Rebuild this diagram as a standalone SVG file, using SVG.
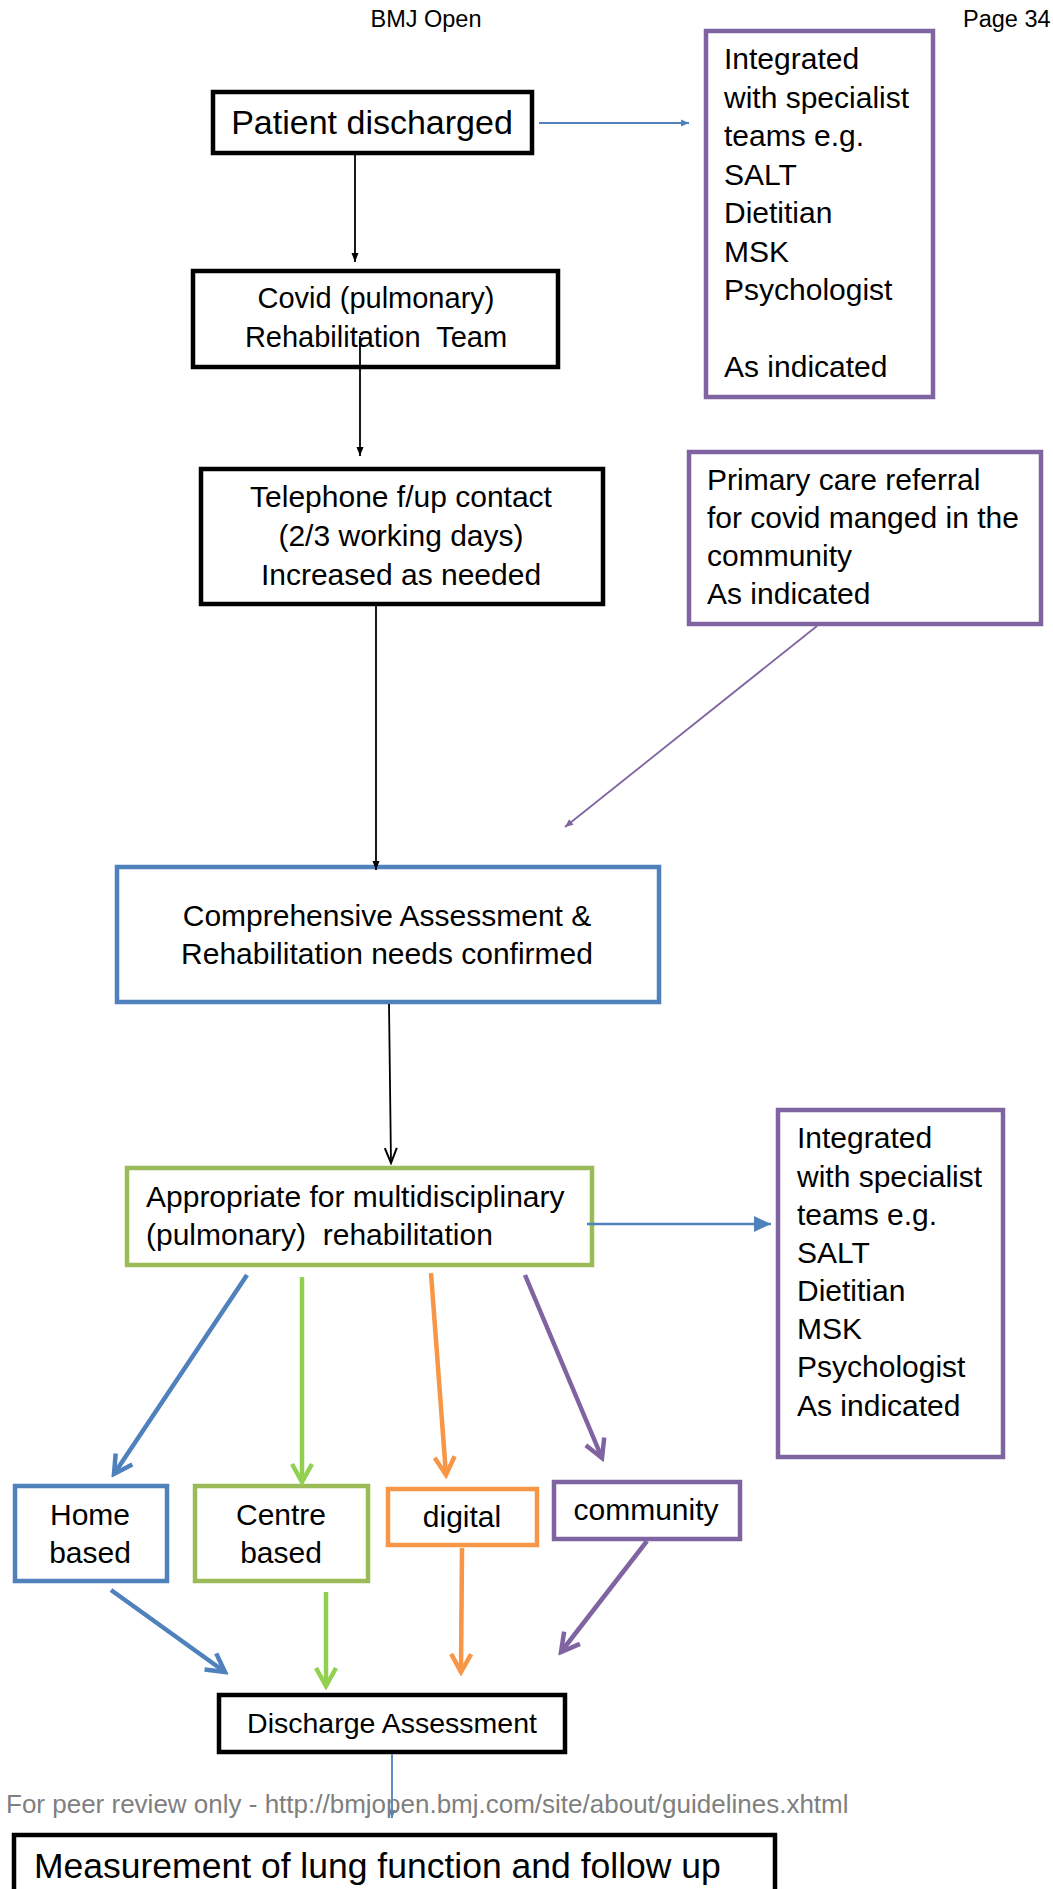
<svg xmlns="http://www.w3.org/2000/svg" width="1053" height="1889" viewBox="0 0 1053 1889">
<style>
text{font-family:"Liberation Sans",Arial,sans-serif;fill:#000;font-size:30px}
.box{fill:#fff;stroke-width:4.5}
.k{stroke:#000}.b{stroke:#4f81bd}.p{stroke:#8064a2}.g{stroke:#9bbb59}.o{stroke:#f79646}
.c{text-anchor:middle}
.thin{fill:none;stroke-width:1.8}
.thick{fill:none;stroke-width:4.5}
</style>
<defs>
<marker id="mk" markerUnits="userSpaceOnUse" viewBox="-10 -6 12 12" refX="0" refY="0" markerWidth="12" markerHeight="12" orient="auto"><path d="M-9,-3.5 L0,0 L-9,3.5 Z" fill="#000"/></marker>
<marker id="mkv" markerUnits="userSpaceOnUse" viewBox="-18 -9 20 18" refX="0" refY="0" markerWidth="20" markerHeight="18" orient="auto"><path d="M-15,-6 L0,0 L-15,6" fill="none" stroke="#000" stroke-width="2"/></marker>
<marker id="mbs" markerUnits="userSpaceOnUse" viewBox="-10 -6 12 12" refX="0" refY="0" markerWidth="12" markerHeight="12" orient="auto"><path d="M-8,-3.5 L0,0 L-8,3.5 Z" fill="#4f81bd"/></marker>
<marker id="mps" markerUnits="userSpaceOnUse" viewBox="-10 -6 12 12" refX="0" refY="0" markerWidth="12" markerHeight="12" orient="auto"><path d="M-8,-3.5 L0,0 L-8,3.5 Z" fill="#8064a2"/></marker>
<marker id="mbf" markerUnits="userSpaceOnUse" viewBox="-20 -10 22 20" refX="0" refY="0" markerWidth="22" markerHeight="20" orient="auto"><path d="M-17,-8 L0,0 L-17,8 Z" fill="#4f81bd"/></marker>
<marker id="vb" markerUnits="userSpaceOnUse" viewBox="-22 -14 26 28" refX="0" refY="0" markerWidth="26" markerHeight="28" orient="auto"><path d="M-18,-10 L0,0 L-18,10" fill="none" stroke="#4f81bd" stroke-width="4.5"/></marker>
<marker id="vg" markerUnits="userSpaceOnUse" viewBox="-22 -14 26 28" refX="0" refY="0" markerWidth="26" markerHeight="28" orient="auto"><path d="M-18,-10 L0,0 L-18,10" fill="none" stroke="#92d050" stroke-width="4.5"/></marker>
<marker id="vo" markerUnits="userSpaceOnUse" viewBox="-22 -14 26 28" refX="0" refY="0" markerWidth="26" markerHeight="28" orient="auto"><path d="M-18,-10 L0,0 L-18,10" fill="none" stroke="#f79646" stroke-width="4.5"/></marker>
<marker id="vp" markerUnits="userSpaceOnUse" viewBox="-22 -14 26 28" refX="0" refY="0" markerWidth="26" markerHeight="28" orient="auto"><path d="M-18,-10 L0,0 L-18,10" fill="none" stroke="#8064a2" stroke-width="4.5"/></marker>
</defs>
<rect width="1053" height="1889" fill="#fff"/>
<g id="header">
<text class="c" x="426" y="27" style="font-size:23.5px">BMJ Open</text>
<text x="963" y="27" style="font-size:23.5px">Page 34</text>
</g>
<g id="patient-discharged">
<rect class="box k" x="213" y="92" width="319" height="61"/>
<text class="c" x="372" y="134" style="font-size:34px">Patient discharged</text>
</g>
<g id="rehab-team">
<rect class="box k" x="193" y="271" width="365" height="96"/>
<text class="c" x="376" y="308" style="font-size:29px">Covid (pulmonary)</text>
<text class="c" x="376" y="347" style="font-size:29px;white-space:pre">Rehabilitation  Team</text>
</g>
<g id="telephone">
<rect class="box k" x="201" y="469" width="402" height="135"/>
<text class="c" x="401" y="507">Telephone f/up contact</text>
<text class="c" x="401" y="546">(2/3 working days)</text>
<text class="c" x="401" y="585">Increased as needed</text>
</g>
<g id="comprehensive">
<rect class="box b" x="117" y="867" width="542" height="135"/>
<text class="c" x="387" y="926">Comprehensive Assessment &amp;</text>
<text class="c" x="387" y="964">Rehabilitation needs confirmed</text>
</g>
<g id="specialist-top">
<rect class="box p" x="706" y="31" width="227" height="366"/>
<text x="724" y="69">Integrated</text>
<text x="724" y="107.5">with specialist</text>
<text x="724" y="146">teams e.g.</text>
<text x="724" y="184.5">SALT</text>
<text x="724" y="223">Dietitian</text>
<text x="724" y="261.5">MSK</text>
<text x="724" y="300">Psychologist</text>
<text x="724" y="377">As indicated</text>
</g>
<g id="primary-care">
<rect class="box p" x="689" y="452" width="352" height="172"/>
<text x="707" y="490">Primary care referral</text>
<text x="707" y="528">for covid manged in the</text>
<text x="707" y="566">community</text>
<text x="707" y="604">As indicated</text>
</g>
<g id="appropriate">
<rect class="box g" x="127" y="1168" width="465" height="97"/>
<text x="146" y="1207">Appropriate for multidisciplinary</text>
<text x="146" y="1245" style="white-space:pre">(pulmonary)  rehabilitation</text>
</g>
<g id="specialist-bottom">
<rect class="box p" x="778" y="1110" width="225" height="347"/>
<text x="797" y="1148">Integrated</text>
<text x="797" y="1187">with specialist</text>
<text x="797" y="1225">teams e.g.</text>
<text x="797" y="1263">SALT</text>
<text x="797" y="1301">Dietitian</text>
<text x="797" y="1339">MSK</text>
<text x="797" y="1377">Psychologist</text>
<text x="797" y="1416">As indicated</text>
</g>
<g id="home-based">
<rect class="box b" x="15" y="1486" width="152" height="95"/>
<text class="c" x="90" y="1525">Home</text>
<text class="c" x="90" y="1563">based</text>
</g>
<g id="centre-based">
<rect class="box g" x="195" y="1486" width="173" height="95"/>
<text class="c" x="281" y="1525">Centre</text>
<text class="c" x="281" y="1563">based</text>
</g>
<g id="digital">
<rect class="box o" x="388" y="1489" width="149" height="56"/>
<text class="c" x="462" y="1527">digital</text>
</g>
<g id="community">
<rect class="box p" x="554" y="1482" width="186" height="57"/>
<text class="c" x="646" y="1520">community</text>
</g>
<g id="discharge-assessment">
<rect class="box k" x="219" y="1695" width="346" height="57"/>
<text class="c" x="392" y="1733" style="font-size:28.5px">Discharge Assessment</text>
</g>
<g id="measurement">
<rect class="box k" x="14" y="1835" width="761" height="80"/>
<text x="34" y="1878" style="font-size:35.5px">Measurement of lung function and follow up</text>
</g>
<g id="connectors">
<path class="thin k" d="M355 155 L355 262" marker-end="url(#mk)"/>
<path class="thin k" d="M360 336 L360 456" marker-end="url(#mk)"/>
<path class="thin k" d="M376 606 L376 870" marker-end="url(#mk)"/>
<path class="thin k" d="M389 1004 L391 1163" marker-end="url(#mkv)"/>
<path class="thin b" d="M539 123 L689 123" marker-end="url(#mbs)"/>
<path class="thin p" d="M817 626 L565 827" marker-end="url(#mps)"/>
<path class="b" fill="none" stroke-width="2.5" d="M587 1224 L771 1224" marker-end="url(#mbf)"/>
<path class="thick" stroke="#4f81bd" d="M247 1275 L114 1474" marker-end="url(#vb)"/>
<path class="thick" stroke="#92d050" d="M302 1277 L302 1482" marker-end="url(#vg)"/>
<path class="thick" stroke="#f79646" d="M431 1273 L446 1475" marker-end="url(#vo)"/>
<path class="thick" stroke="#8064a2" d="M525 1275 L602 1458" marker-end="url(#vp)"/>
<path class="thick" stroke="#4f81bd" d="M111 1590 L225 1672" marker-end="url(#vb)"/>
<path class="thick" stroke="#92d050" d="M326 1592 L326 1686" marker-end="url(#vg)"/>
<path class="thick" stroke="#f79646" d="M462 1548 L461 1672" marker-end="url(#vo)"/>
<path class="thick" stroke="#8064a2" d="M647 1541 L561 1652" marker-end="url(#vp)"/>
<path class="thin b" d="M392 1754 L392 1818" marker-end="url(#mbs)"/>
</g>
<g id="footer">
<text x="6" y="1813" style="font-size:26px;fill:#7f7f7f">For peer review only - http://bmjopen.bmj.com/site/about/guidelines.xhtml</text>
</g>
</svg>
